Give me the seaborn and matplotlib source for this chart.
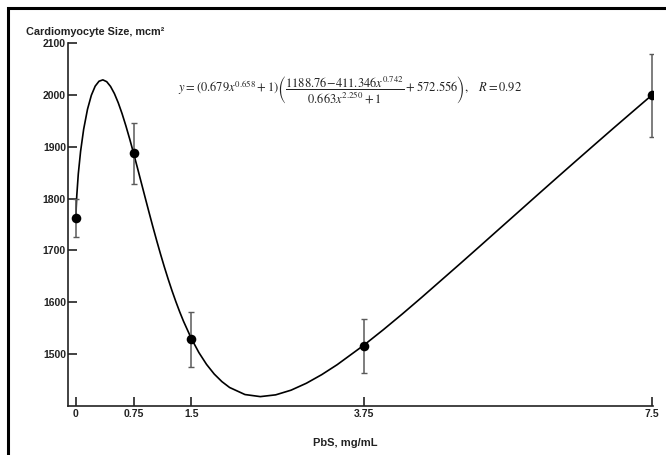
import matplotlib
matplotlib.use("Agg")
import matplotlib.pyplot as plt
from matplotlib.patches import Rectangle
import seaborn as sns
import pandas as pd

# ---- data ----
dose = [0, 0.75, 1.5, 3.75, 7.5]
size_mean = [1763, 1887, 1529, 1516, 1999]
size_err = [37, 58, 53, 52, 80]

# fitted curve, values
fit_x = [0, 0.003, 0.01, 0.03, 0.06, 0.1, 0.15, 0.2, 0.25, 0.3, 0.35, 0.4, 0.45,
         0.5, 0.55, 0.6, 0.65, 0.7, 0.75, 0.8, 0.85, 0.9, 0.95, 1.0, 1.05, 1.1,
         1.15, 1.2, 1.25, 1.3, 1.35, 1.4, 1.5, 1.6, 1.7, 1.8, 1.9, 2.0, 2.2,
         2.4, 2.6, 2.8, 3.0, 3.2, 3.4, 3.75, 4.0, 4.25, 4.5, 5.0, 5.25, 5.5,
         5.75, 6.0, 6.25, 6.5, 6.75, 7.0, 7.25, 7.5]
fit_y = [1761.3, 1781.9, 1805.1, 1847.5, 1891.2, 1933.8, 1972.3, 1999.2, 2016.8,
         2026.3, 2028.9, 2025.4, 2016.2, 2002.5, 1984.8, 1963.8, 1940.1, 1914.5,
         1887.3, 1859.3, 1830.8, 1802.3, 1774.0, 1746.2, 1719.3, 1693.3, 1668.4,
         1644.8, 1622.4, 1601.4, 1581.7, 1563.4, 1530.7, 1503.1, 1480.2, 1461.6,
         1447.0, 1435.7, 1422.1, 1418.1, 1421.5, 1430.5, 1443.9, 1460.5, 1479.6,
         1517.5, 1546.9, 1577.6, 1609.3, 1674.2, 1707.0, 1740.0, 1772.9, 1805.9,
         1838.7, 1871.3, 1903.7, 1936.0, 1967.9, 1999.7]

x_ticks = [0, 0.75, 1.5, 3.75, 7.5]
x_tick_labels = ["0", "0.75", "1.5", "3.75", "7.5"]
y_ticks = [1500, 1600, 1700, 1800, 1900, 2000, 2100]

sns.set_style("ticks")
plt.rcParams["font.family"] = ["Liberation Sans", "DejaVu Sans"]
plt.rcParams["mathtext.fontset"] = "stix"

fig = plt.figure(figsize=(6.66, 4.55), dpi=100)
ax = fig.add_axes([68 / 666, 1 - 406 / 455, 585 / 666, 363 / 455])

fit_df = pd.DataFrame({"x": fit_x, "y": fit_y})
pts_df = pd.DataFrame({"x": dose, "y": size_mean})

sns.lineplot(data=fit_df, x="x", y="y", ax=ax, color="black", linewidth=1.2,
             sort=False, estimator=None)
ax.errorbar(dose, size_mean, yerr=size_err, fmt="none", ecolor="#5a5a5a",
            elinewidth=1.1, capsize=2, capthick=1.0, zorder=3)
sns.scatterplot(data=pts_df, x="x", y="y", ax=ax, color="black", s=48,
                edgecolor="black", linewidth=0, zorder=4)

ax.set_xlim(-0.104, 7.513)
ax.set_ylim(1400, 2100)
ax.set_xticks(x_ticks)
ax.set_xticklabels(x_tick_labels)
ax.set_yticks(y_ticks)
for lab in ax.get_xticklabels() + ax.get_yticklabels():
    lab.set_fontweight("bold")
    lab.set_fontsize(7.5)
    lab.set_color("#222222")
ax.tick_params(axis="both", direction="in", length=6.5, width=1.2, color="#222222")
ax.tick_params(axis="y", pad=1.5)
ax.tick_params(axis="x", pad=2.5)

for side in ["top", "right"]:
    ax.spines[side].set_visible(False)
for side in ["left", "bottom"]:
    ax.spines[side].set_linewidth(1.2)
    ax.spines[side].set_color("#222222")

ax.set_ylabel("")
ax.set_xlabel("PbS, mg/mL", fontsize=8, fontweight="bold", color="#222222")
ax.xaxis.set_label_coords((345 - 68) / 585, (406 - 443) / 363)
ax.xaxis.label.set_va("center")

fig.text(26 / 666, 1 - 32 / 455, "Cardiomyocyte Size, mcm²", fontsize=7.8,
         fontweight="bold", color="#222222", ha="left", va="center")

eq = (r"$y=\left(0.679x^{0.658}+1\right)\left(\dfrac{1188.76\!-\!411.346x^{0.742}}"
      r"{0.663x^{2.250}+1}+572.556\right),\quad R=0.92$")
ax.text((350 - 68) / 585, (406 - 90) / 363, eq, transform=ax.transAxes,
        ha="center", va="center", fontsize=9, color="#222222")

# outer frame of the figure
fig.patches.append(Rectangle((7.5 / 666, -0.1), 1.2, 1.1 - 8.5 / 455,
                             transform=fig.transFigure, fill=False,
                             edgecolor="black", linewidth=2.2, clip_on=False))

fig.savefig("out.png", dpi=100)
